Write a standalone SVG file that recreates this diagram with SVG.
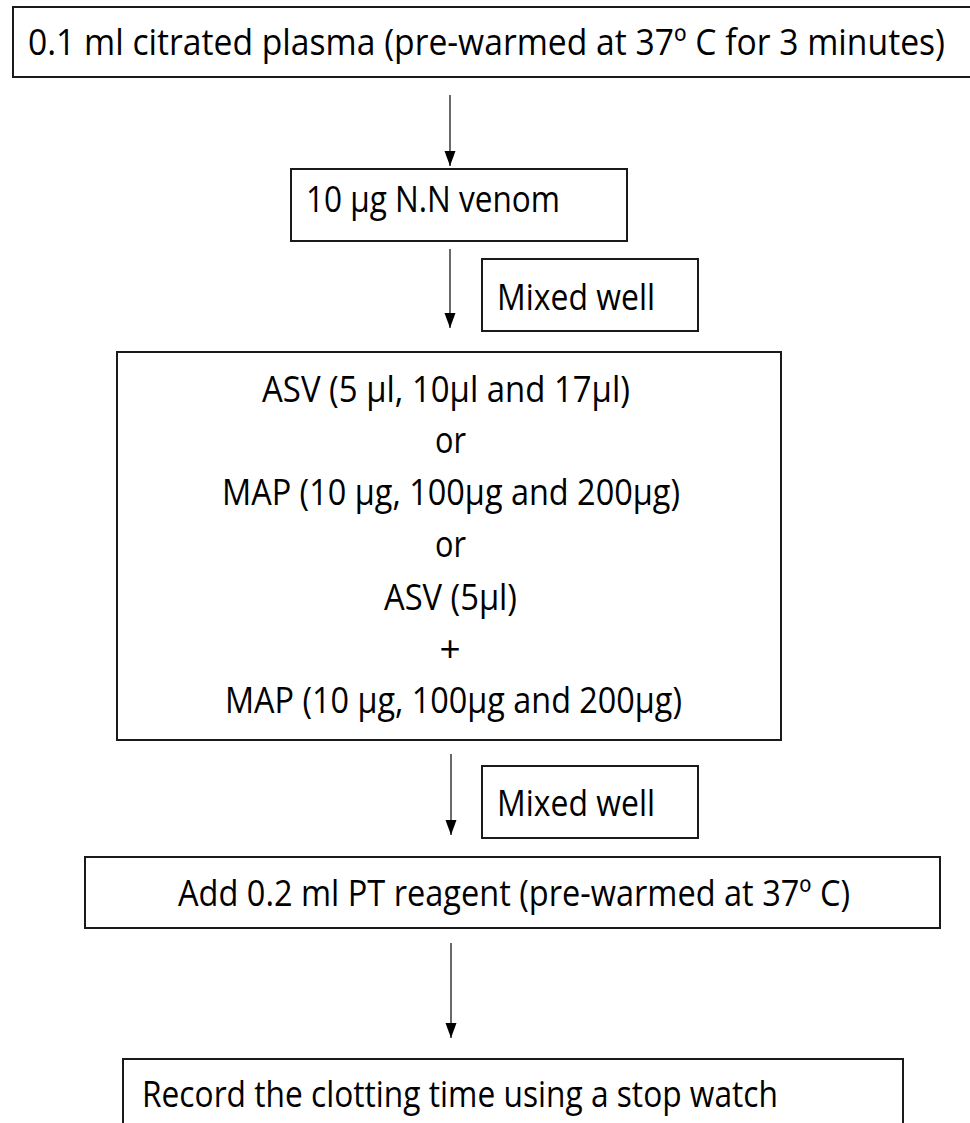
<svg xmlns="http://www.w3.org/2000/svg" width="970" height="1123" viewBox="0 0 970 1123">
  <defs>
    <style>
      .box { fill: #ffffff; stroke: #1a1a1a; stroke-width: 2; }
      .lbl { font-family: "Open Sans", "Noto Sans", "Liberation Sans", sans-serif; font-size: 37px; fill: #000000; }
      .flow { stroke: #1a1a1a; stroke-width: 1.3; fill: none; marker-end: url(#head); }
    </style>
    <!-- filled triangular arrowhead, tip at the line end -->
    <marker id="head" markerUnits="userSpaceOnUse" markerWidth="15" markerHeight="12" viewBox="0 0 15 12" refX="15" refY="6" orient="auto">
      <path d="M0,0.5 L15,6 L0,11.5 Z" fill="#000000"/>
    </marker>
  </defs>
  <rect width="970" height="1123" fill="#ffffff"/>

  <!-- connectors -->
  <g id="connectors">
    <line class="flow" x1="450" y1="95" x2="450" y2="166"/>
    <line class="flow" x1="450" y1="249" x2="450" y2="328"/>
    <line class="flow" x1="451" y1="754" x2="451" y2="835"/>
    <line class="flow" x1="451" y1="943" x2="451" y2="1038"/>
  </g>

  <g id="plasma">
    <rect class="box" x="13" y="7" width="975" height="70"/>
    <text class="lbl" x="28" y="55" textLength="917" lengthAdjust="spacingAndGlyphs">0.1 ml citrated plasma (pre-warmed at 37º C for 3 minutes)</text>
  </g>

  <g id="venom">
    <rect class="box" x="291" y="169" width="336" height="72"/>
    <text class="lbl" x="306" y="212" textLength="254" lengthAdjust="spacingAndGlyphs">10 µg N.N venom</text>
  </g>

  <g id="mix1">
    <rect class="box" x="482" y="259" width="216" height="72"/>
    <text class="lbl" x="497" y="310" textLength="158" lengthAdjust="spacingAndGlyphs">Mixed well</text>
  </g>

  <g id="treatments">
    <rect class="box" x="117" y="352" width="664" height="388"/>
    <text class="lbl" x="262" y="402" textLength="368" lengthAdjust="spacingAndGlyphs">ASV (5 µl, 10µl and 17µl)</text>
    <text class="lbl" x="435" y="453" textLength="31" lengthAdjust="spacingAndGlyphs">or</text>
    <text class="lbl" x="222" y="505" textLength="458" lengthAdjust="spacingAndGlyphs">MAP (10 µg, 100µg and 200µg)</text>
    <text class="lbl" x="435" y="557" textLength="31" lengthAdjust="spacingAndGlyphs">or</text>
    <text class="lbl" x="384" y="610" textLength="133" lengthAdjust="spacingAndGlyphs">ASV (5µl)</text>
    <text class="lbl" x="450" y="662" text-anchor="middle">+</text>
    <text class="lbl" x="225" y="713" textLength="457" lengthAdjust="spacingAndGlyphs">MAP (10 µg, 100µg and 200µg)</text>
  </g>

  <g id="mix2">
    <rect class="box" x="482" y="766" width="216" height="72"/>
    <text class="lbl" x="497" y="816" textLength="158" lengthAdjust="spacingAndGlyphs">Mixed well</text>
  </g>

  <g id="reagent">
    <rect class="box" x="85" y="857" width="855" height="71"/>
    <text class="lbl" x="178" y="906" textLength="672" lengthAdjust="spacingAndGlyphs">Add 0.2 ml PT reagent (pre-warmed at 37º C)</text>
  </g>

  <g id="record">
    <rect class="box" x="123" y="1059" width="780" height="100"/>
    <text class="lbl" x="142" y="1107" textLength="636" lengthAdjust="spacingAndGlyphs">Record the clotting time using a stop watch</text>
  </g>
</svg>
